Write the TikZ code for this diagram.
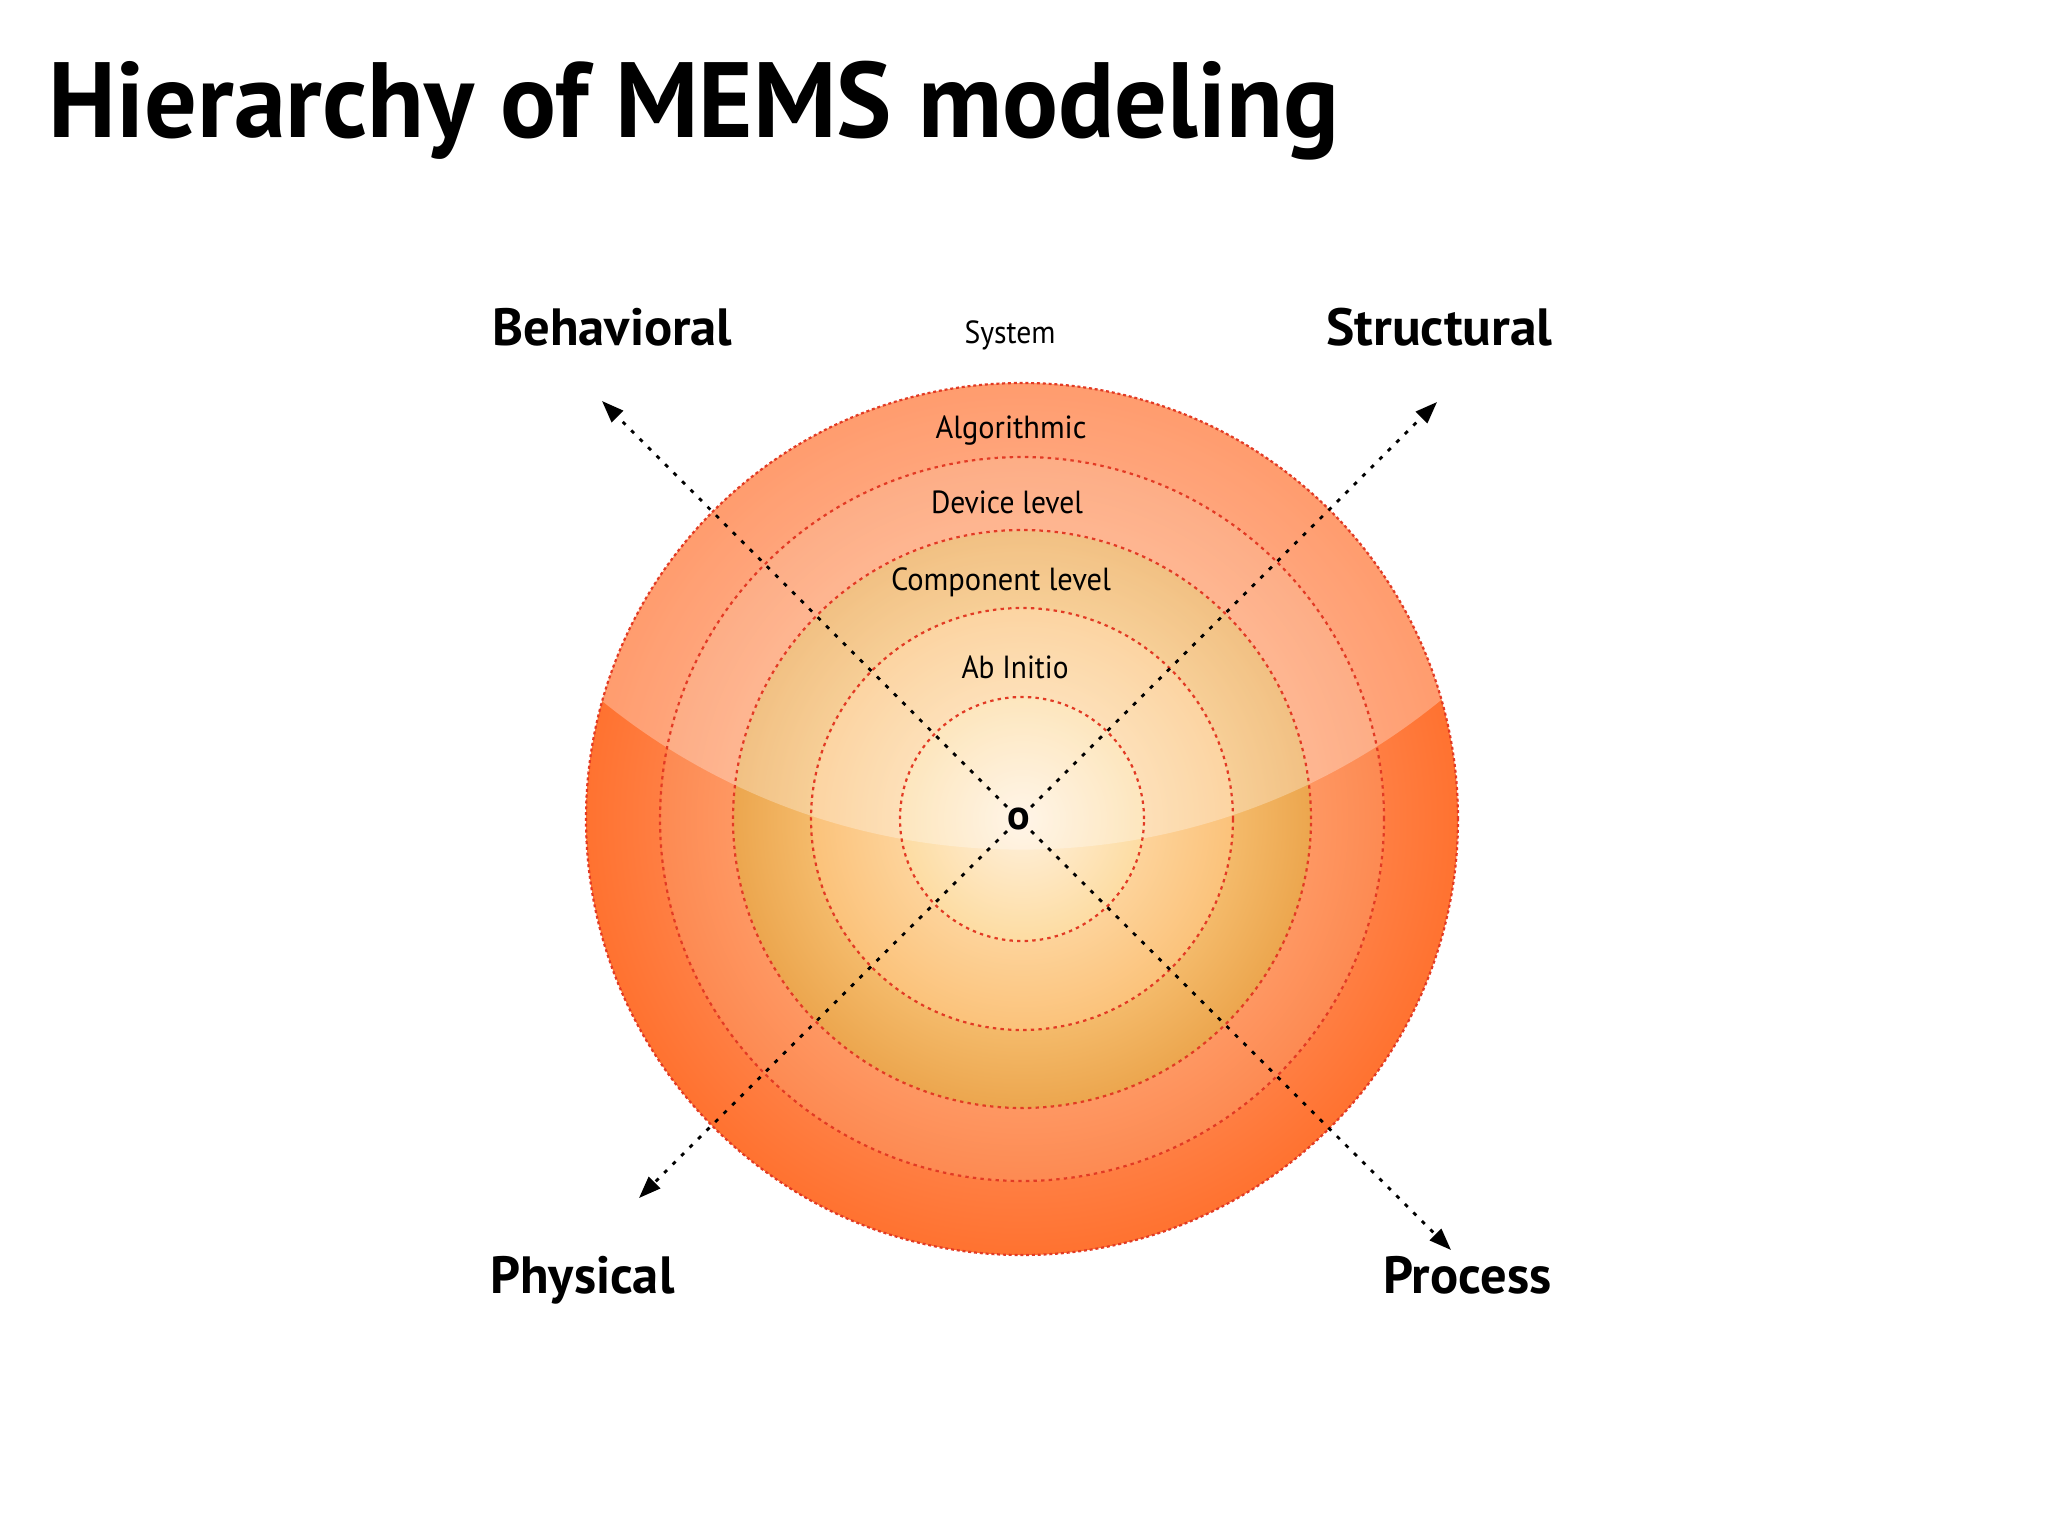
\documentclass[tikz,border=0pt]{standalone}
\usepackage{fontspec}
\setmainfont{PT Sans}
\usepackage{graphicx}
\usetikzlibrary{arrows.meta}
\definecolor{ringred}{HTML}{E23A24}
\definecolor{k0}{HTML}{FFF1DE}
\definecolor{k1}{HTML}{FDDCA2}
\definecolor{k2}{HTML}{FDD39A}
\definecolor{k3}{HTML}{FBC27A}
\definecolor{k4}{HTML}{F4BA6A}
\definecolor{k5}{HTML}{ECA64E}
\definecolor{k6}{HTML}{FE9762}
\definecolor{k7}{HTML}{FD8A52}
\definecolor{k8}{HTML}{FF7E42}
\definecolor{k9}{HTML}{FF7230}
\pgfdeclareradialshading{memsdisk}{\pgfpoint{0bp}{0bp}}{%
  color(0bp)=(k0); color(7bp)=(k1); color(7.01bp)=(k2); color(12.1bp)=(k3);
  color(12.11bp)=(k4); color(16.57bp)=(k5); color(16.58bp)=(k6); color(20.76bp)=(k7);
  color(20.77bp)=(k8); color(25bp)=(k9); color(50bp)=(k9)}
\newcommand{\fitto}[2]{\resizebox{#1}{\height}{#2}}
\tikzset{
  ringline/.style={draw=ringred, line width=1.1pt, dash pattern=on 1.7pt off 2.1pt},
  outerline/.style={draw=ringred, line width=1.1pt, dash pattern=on 1.5pt off 1.4pt},
  axisline/.style={draw=black, line width=1.4pt, dash pattern=on 2pt off 4pt,
    -{Triangle[length=11pt,width=8pt]}},
  titletext/.style={anchor=base west, inner sep=0pt, font=\bfseries\fontsize{53.5pt}{60pt}\selectfont},
  axistext/.style={anchor=base west, inner sep=0pt, font=\bfseries\fontsize{26.2pt}{30pt}\selectfont},
  leveltext/.style={anchor=base, inner sep=0pt, font=\fontsize{16pt}{18pt}\selectfont},
}
\begin{document}
\begin{tikzpicture}[x=0.5pt, y=-0.5pt]
\useasboundingbox[fill=white] (0,0) rectangle (2048,1536);
\coordinate (c) at (1022,819);
% disk with ring colours
\shade[shading=memsdisk] (c) circle[radius=218pt];
% glossy highlight
\begin{scope}
  \clip (c) circle[radius=218pt];
  \fill[white, opacity=0.3] (1021,185) circle[radius=332.3pt];
\end{scope}
% dotted ring boundaries
\draw[ringline] (c) circle[radius=181pt];
\draw[ringline] (c) circle[radius=144.5pt];
\draw[ringline] (c) circle[radius=105.5pt];
\draw[ringline] (c) circle[radius=61pt];
\draw[outerline] (c) circle[radius=218pt];
% title
\node[titletext] (title) at (48,138) {\fitto{645.5pt}{Hierarchy of MEMS modeling}};
% level labels
\node[leveltext] (sys) at (1010,343) {\fitto{45.5pt}{System}};
\node[leveltext] (alg) at (1011,438) {\fitto{75.5pt}{Algorithmic}};
\node[leveltext] (dev) at (1007,513) {\fitto{76pt}{Device level}};
\node[leveltext] (comp) at (1001,590) {\fitto{110pt}{Component level}};
\node[leveltext] (abi) at (1015,678) {\fitto{53.5pt}{Ab Initio}};
% axis labels
\node[axistext] (beh) at (492,345) {\fitto{120pt}{Behavioral}};
\node[axistext] (str) at (1326,345) {\fitto{113pt}{Structural}};
\node[axistext] (phy) at (490,1293) {\fitto{92pt}{Physical}};
\node[axistext] (pro) at (1383,1293) {\fitto{84pt}{Process}};
% origin
\node[inner sep=0.3pt, font=\bfseries\fontsize{21pt}{21pt}\selectfont] (o) at (1019,819) {o};
\coordinate (tb) at (602,401);
\coordinate (ts) at (1437,402);
\coordinate (tp) at (639,1198);
\coordinate (tr) at (1451,1250);
\draw[axisline] (o) -- (tb);
\draw[axisline] (o) -- (ts);
\draw[axisline] (o) -- (tp);
\draw[axisline] (o) -- (tr);
\end{tikzpicture}
\end{document}
